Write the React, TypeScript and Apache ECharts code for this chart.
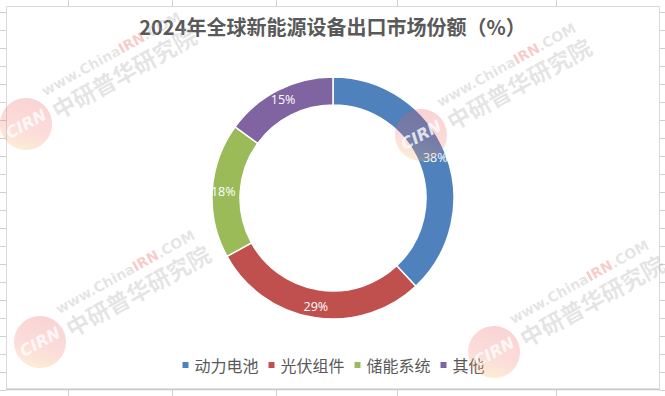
import React, { useEffect, useRef } from "react";
import * as echarts from "echarts";

const chartTitle = "2024年全球新能源设备出口市场份额（%）";
const categories = ["动力电池", "光伏组件", "储能系统", "其他"];
const shareValues = [38, 29, 18, 15];
const sliceColors = ["#4F81BD", "#C0504D", "#9BBB59", "#8064A2"];

const W = 665;
const H = 396;

function watermark(cx: number, cy: number) {
  const ang = (29 * Math.PI) / 180;
  return {
    type: "group",
    x: cx,
    y: cy,
    rotation: ang,
    z: 50,
    silent: true,
    children: [
      {
        type: "circle",
        z: 50,
        shape: { cx: 0, cy: 0, r: 26 },
        style: {
          fill: new echarts.graphic.LinearGradient(0, 1, 1, 0, [
            { offset: 0, color: "rgba(250,225,110,0.30)" },
            { offset: 0.45, color: "rgba(240,110,100,0.24)" },
            { offset: 1, color: "rgba(230,60,70,0.24)" },
          ]),
        },
      },
      {
        type: "text",
        z: 51,
        x: 0,
        y: 0,
        style: {
          text: "CIRN",
          fill: "rgba(255,255,255,0.8)",
          font: 'italic bold 16px "DejaVu Sans"',
          align: "center",
          verticalAlign: "middle",
        },
      },
      {
        type: "text",
        z: 51,
        x: 30,
        y: -20,
        style: {
          text: "www.China{r|IRN}.COM",
          fill: "rgba(160,160,160,0.28)",
          font: 'bold 14px "DejaVu Sans"',
          verticalAlign: "middle",
          rich: {
            r: {
              fill: "rgba(235,90,90,0.32)",
              font: 'bold 14px "DejaVu Sans"',
            },
          },
        },
      },
      {
        type: "text",
        z: 51,
        x: 30,
        y: 2,
        style: {
          text: "中研普华研究院",
          fill: "rgba(160,160,160,0.28)",
          font: 'bold 23px "Noto Sans CJK SC"',
          verticalAlign: "middle",
        },
      },
    ],
  };
}

export default function App() {
  const ref = useRef<HTMLDivElement>(null);

  useEffect(() => {
    if (!ref.current) return;
    const chart = echarts.init(ref.current, null, { renderer: "svg" });

    const gridColor = "#d0d0d0";
    const decor: any[] = [];
    const vXs = [68, 172, 276, 397, 556];
    vXs.forEach((x) => {
      decor.push({
        type: "line",
        shape: { x1: x + 0.5, y1: 0, x2: x + 0.5, y2: 6 },
        style: { stroke: gridColor, lineWidth: 1 },
        silent: true,
      });
      decor.push({
        type: "line",
        shape: { x1: x + 0.5, y1: 390, x2: x + 0.5, y2: H },
        style: { stroke: gridColor, lineWidth: 1 },
        silent: true,
      });
    });
    for (let k = 0; k <= 21; k++) {
      const y = 12.5 + 18 * k;
      if (y > H) break;
      decor.push({
        type: "line",
        shape: { x1: 0, y1: y, x2: 6, y2: y },
        style: { stroke: gridColor, lineWidth: 1 },
        silent: true,
      });
      decor.push({
        type: "line",
        shape: { x1: 660, y1: y, x2: W, y2: y },
        style: { stroke: gridColor, lineWidth: 1 },
        silent: true,
      });
    }
    decor.push({
      type: "rect",
      shape: { x: 6.5, y: 6.5, width: 653, height: 382.5 },
      style: { fill: "#ffffff", stroke: "#d9d9d9", lineWidth: 1 },
      silent: true,
      z: -10,
    });
    decor.push({
      type: "line",
      shape: { x1: 6, y1: 389.5, x2: 660, y2: 389.5 },
      style: { stroke: "#c8c8c8", lineWidth: 1.5 },
      silent: true,
    });

    const marks = [
      watermark(26, 124),
      watermark(421, 135),
      watermark(40, 342),
      watermark(494, 352),
    ];

    chart.setOption({
      animation: false,
      backgroundColor: "#ffffff",
      color: sliceColors,
      title: {
        text: chartTitle,
        left: "center",
        top: 11,
        textStyle: {
          fontSize: 20,
          fontWeight: "bold",
          color: "#595959",
          fontFamily: '"Noto Sans CJK SC", sans-serif',
        },
      },
      legend: {
        data: categories,
        top: 352,
        left: "center",
        icon: "rect",
        itemWidth: 8,
        itemHeight: 8,
        itemGap: 8,
        textStyle: {
          fontSize: 16,
          color: "#595959",
          fontFamily: '"Noto Sans CJK SC", sans-serif',
        },
      },
      graphic: [...decor, ...marks],
      series: [
        {
          type: "pie",
          center: [333, 198],
          radius: [93, 121],
          startAngle: 90,
          clockwise: true,
          z: 2,
          avoidLabelOverlap: false,
          itemStyle: { borderColor: "#ffffff", borderWidth: 1.5 },
          label: {
            show: true,
            position: "inside",
            formatter: "{c}%",
            color: "#ffffff",
            fontSize: 12.5,
            fontFamily: '"Open Sans", "Liberation Sans", sans-serif',
          },
          labelLine: { show: false },
          emphasis: { disabled: true },
          data: categories.map((name, i) => ({ name, value: shareValues[i] })),
        },
      ],
    });

    return () => chart.dispose();
  }, []);

  return (
    <div
      ref={ref}
      style={{
        position: "fixed",
        left: 0,
        top: 0,
        width: W,
        height: H,
        background: "#fff",
      }}
    />
  );
}
